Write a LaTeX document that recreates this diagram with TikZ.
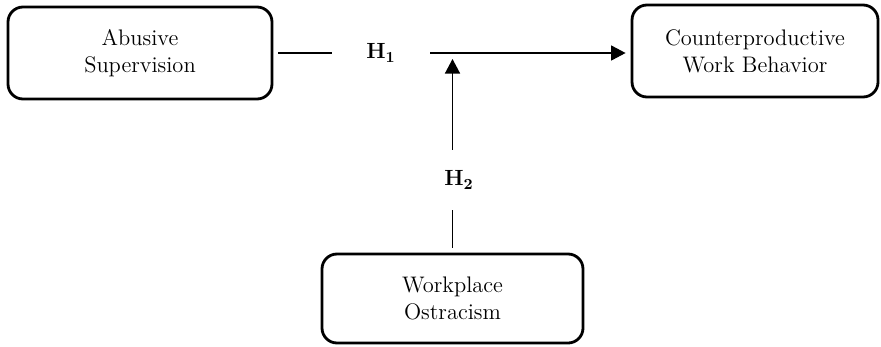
\documentclass[tikz,border=0pt]{standalone}
\usepackage{tikz}
\usetikzlibrary{arrows.meta}

\begin{document}
\begin{tikzpicture}[auto]
   \useasboundingbox (0,0) rectangle (17.62,-6.92);
   \begin{scope}[every node/.style={rectangle,rounded corners=0.3cm,draw=black,line width=1.6pt,align=center,font=\fontsize{12.8}{15.5}\selectfont}]
    \node[minimum width=5.28cm,minimum height=1.84cm] (abs) at (2.8,-1.06) {Abusive\\Supervision};
    \node[minimum width=4.92cm,minimum height=1.84cm] (cwb) at (15.1,-1.02) {Counterproductive\\Work Behavior};
    \node[minimum width=5.22cm,minimum height=1.78cm] (wo) at (9.05,-5.97) {Workplace\\Ostracism};
   \end{scope}
   \begin{scope}[every node/.style={font=\fontsize{12.5}{15}\selectfont\bfseries}]
    \node[inner xsep=0.68cm,inner ysep=0.1cm] (h1) at (7.62,-1.06) {H\textsubscript{1}};
    \node[inner xsep=0.1cm,inner ysep=0.42cm] (h2) at (9.18,-3.6) {H\textsubscript{2}};
   \end{scope}
   \coordinate (m) at (9.05,-1.06);
   \begin{scope}[line width=0.8pt,>={Triangle[length=0.29cm,width=0.3cm]}]
    \draw[shorten <=0.1cm] (abs.east |- h1) -- (h1.west);
    \draw[->,shorten >=0.1cm] (h1.east) -- (h1 -| cwb.west);
    \draw[shorten <=0.1cm] (wo.north) -- (wo.north |- h2.south);
    \draw[->,shorten >=0.12cm] (wo.north |- h2.north) -- (m);
   \end{scope}
\end{tikzpicture}
\end{document}
